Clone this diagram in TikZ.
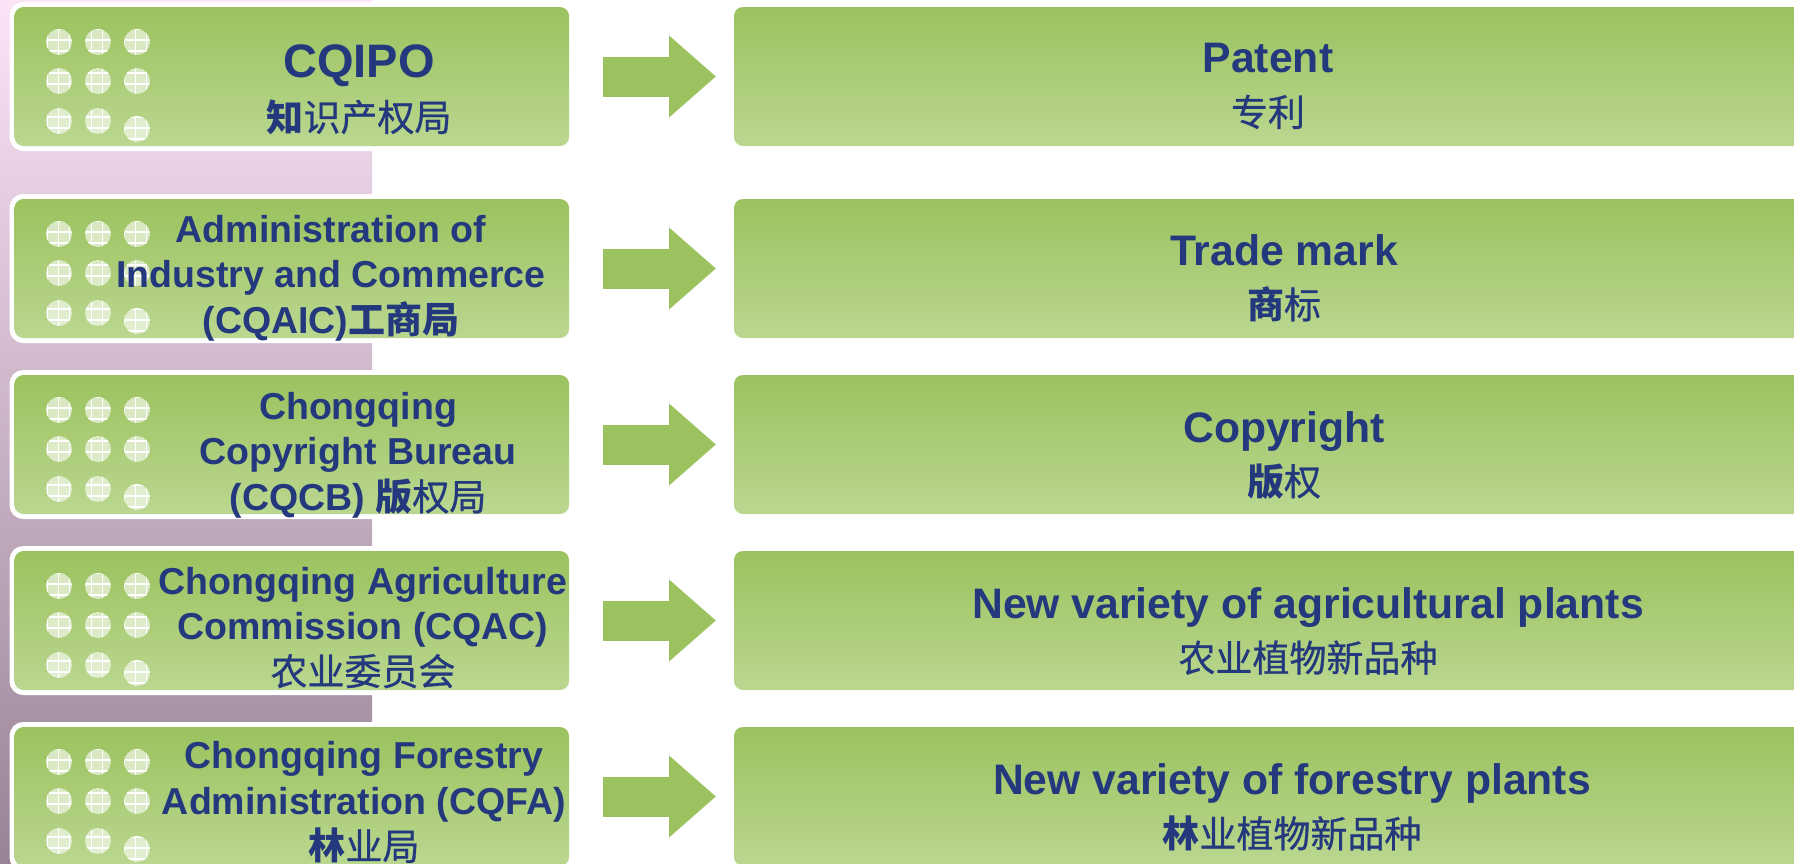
\documentclass[tikz,border=0pt]{standalone}
\usepackage{fontspec}
\setmainfont{Liberation Sans}
\newfontfamily\cjk{Noto Sans CJK SC}
\newfontfamily\cjkm[FakeBold=0.7]{Noto Sans CJK SC}
\usetikzlibrary{positioning,arrows.meta}
\definecolor{ipblue}{RGB}{36,57,125}
\definecolor{boxtop}{RGB}{155,194,94}
\definecolor{boxbot}{RGB}{186,215,144}
\definecolor{striptop}{RGB}{251,227,248}
\definecolor{stripmid}{RGB}{218,193,216}
\definecolor{stripbot}{RGB}{152,131,150}
\newcommand\cnr[1]{{\cjkm\mdseries\fontsize{18.5}{18.5}\selectfont #1}}
\newcommand\cnb[1]{{\cjk\bfseries\fontsize{18.5}{18.5}\selectfont #1}}

\begin{document}
\begin{tikzpicture}[x=0.5pt,y=-0.5pt,
    box/.style={rectangle,rounded corners=4.5pt,inner sep=0pt,outer sep=0pt,
      minimum height=69.5pt,top color=boxtop,bottom color=boxbot,
      preaction={draw=white,line width=5pt}},
    org box/.style={box,minimum width=277.25pt},
    ip box/.style={box,minimum width=538pt},
    org text/.style={text=ipblue,align=center,inner sep=0pt,
      font=\bfseries\fontsize{18.75}{22.75}\selectfont},
    ip text/.style={text=ipblue,align=center,inner sep=0pt,
      font=\bfseries\fontsize{21.35}{26.5}\selectfont},
    spot/.style={fill=white,fill opacity=.6,path picture={
        \draw[white,line width=.6pt] (path picture bounding box.south west)
          grid[step=5.5pt] (path picture bounding box.north east);}},
    spots/.pic={\path[spot] (44.5,35) circle[radius=13] (83.5,35) circle[radius=13]
      (122.5,35) circle[radius=13] (44.5,74) circle[radius=13] (83.5,74) circle[radius=13]
      (122.5,74) circle[radius=13] (44.5,114) circle[radius=13] (83.5,114) circle[radius=13]
      (122.5,122) circle[radius=13];},
    push/.style={draw=boxtop,line width=20pt,-{Triangle[length=23.5pt,width=39.5pt]},
      shorten <=17pt,shorten >=9pt}]

  \path[use as bounding box] (0,0) rectangle (1794,863);
  \fill[white] (0,0) rectangle (1794,863);
  \clip (0,0) rectangle (1794,863);
  \shade[top color=striptop,middle color=stripmid,bottom color=stripbot]
    (0,0) rectangle (372,863);

  \node[org box,anchor=north west] (IPO) at (14.5,7) {};
  \node[org box,below=26.5pt of IPO] (AIC) {};
  \node[org box,below=18.5pt of AIC] (CB) {};
  \node[org box,below=18.5pt of CB] (AC) {};
  \node[org box,below=18.5pt of AC] (FA) {};

  \node[ip box,right=82.5pt of IPO] (PAT) {};
  \node[ip box,right=82.5pt of AIC] (TM) {};
  \node[ip box,right=82.5pt of CB] (CR) {};
  \node[ip box,right=82.5pt of AC] (AGR) {};
  \node[ip box,right=82.5pt of FA] (FOR) {};

  \pic at (IPO.north west) {spots};
  \pic at (AIC.north west) {spots};
  \pic at (CB.north west) {spots};
  \pic at (AC.north west) {spots};
  \pic at (FA.north west) {spots};

  \path (IPO) edge[push] (PAT)
    (AIC) edge[push] (TM)
    (CB) edge[push] (CR)
    (AC) edge[push] (AGR)
    (FA) edge[push] (FOR);

  \node[org text,font=\bfseries\fontsize{23.5}{27}\selectfont] (IPOt) at (359,89.3)
    {CQIPO\\\cnb{知}\cnr{识产权局}};
  \node[org text] (AICt) at (331,278.2)
    {Administration of\\Industry and Commerce\\(CQAIC)\cnb{工商局}};
  \node[org text] (CBt) at (358,455.2)
    {Chongqing\\Copyright Bureau\\(CQCB) \cnb{版}\cnr{权局}};
  \node[org text] (ACt) at (363,627.6)
    {Chongqing Agriculture\\Commission (CQAC)\\\cnr{农业委员会}};
  \node[org text] (FAt) at (364,802.6)
    {Chongqing Forestry\\Administration (CQFA)\\\cnb{林}\cnr{业局}};

  \node[ip text] (PATt) at (1268,86.3) {Patent\\\cnr{专利}};
  \node[ip text] (TMt) at (1284,278.3) {Trade mark\\\cnb{商}\cnr{标}};
  \node[ip text] (CRt) at (1284,455.3) {Copyright\\\cnb{版}\cnr{权}};
  \node[ip text] (AGRt) at (1308,631.3)
    {New variety of agricultural plants\\\cnr{农业植物新品种}};
  \node[ip text] (FORt) at (1292,807.3)
    {New variety of forestry plants\\\cnb{林}\cnr{业植物新品种}};
\end{tikzpicture}
\end{document}
